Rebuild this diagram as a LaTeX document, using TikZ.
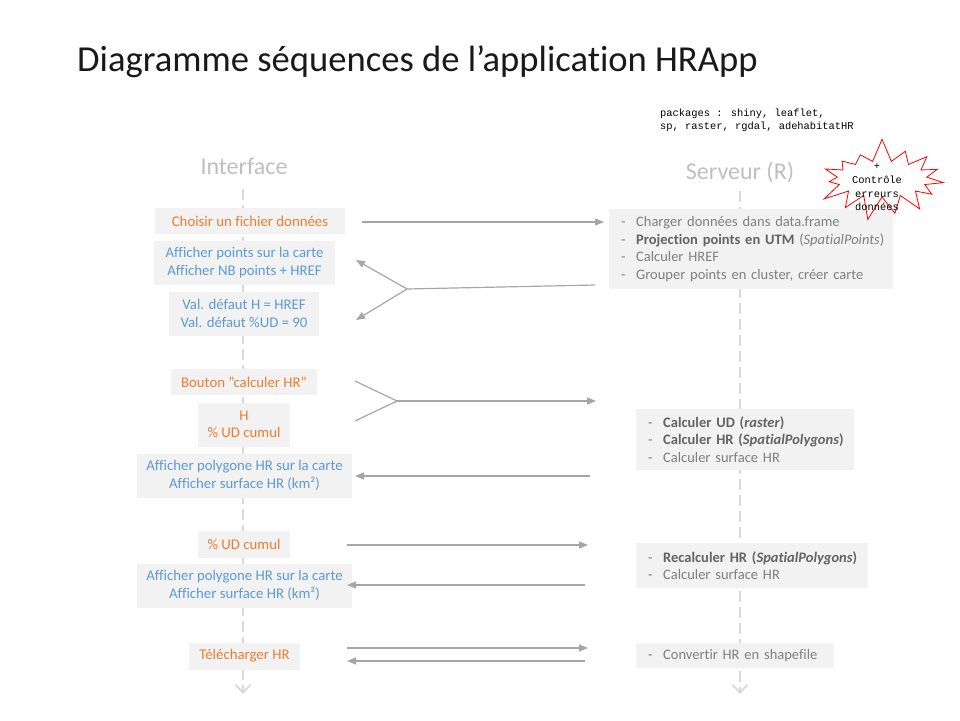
\documentclass[tikz,border=0pt]{standalone}
\usepackage{fontspec}
\setmainfont{Carlito}[Ligatures=NoCommon]
\newfontfamily\monofont{Liberation Mono}
\usetikzlibrary{arrows.meta,shapes.symbols}
\definecolor{orng}{HTML}{ED7D31}
\definecolor{blu}{HTML}{5B9BD5}
\definecolor{boxfill}{HTML}{F2F2F2}
\definecolor{arrgray}{HTML}{A6A6A6}
\definecolor{lifegray}{HTML}{D9D9D9}
\definecolor{headgray}{HTML}{BFBFBF}
\definecolor{txtgray}{HTML}{7F7F7F}
\definecolor{boldgray}{HTML}{636363}
\newcommand{\itm}[1]{\hspace*{12pt}\makebox[15pt][l]{-}#1}
\newcommand{\bitm}[1]{\hspace*{12pt}\makebox[15pt][l]{-}{\bfseries\color{boldgray}#1}}
\tikzset{
  body/.style={font=\fontsize{14.8}{17.5}\selectfont},
  lbox/.style={body, fill=boxfill, align=center, inner sep=0pt},
  obox/.style={lbox, text=orng},
  bbox/.style={lbox, text=blu},
  rbox/.style={font=\fontsize{14.5}{17.6}\selectfont, fill=boxfill, align=left, inner xsep=0pt, inner ysep=0pt, text=txtgray, anchor=west},
  lifeline/.style={draw=lifegray, line width=1.8pt, dash pattern=on 11pt off 5pt, -{Straight Barb[length=8pt,width=15pt,line width=1.8pt]}},
  msg/.style={draw=arrgray, line width=1.2pt, -{Triangle[length=9pt,width=7pt]}},
  plainline/.style={draw=arrgray, line width=1.2pt},
  head/.style={font=\fontsize{24}{28}\selectfont, text=headgray}
}
\begin{document}
\begin{tikzpicture}[x=1pt,y=-1pt]
\useasboundingbox (0,0) rectangle (960,720);

% title
\node[anchor=west, font=\fontsize{36.6}{42}\selectfont, text=black!90, inner sep=0pt] (title) at (77,62) {Diagramme séquences de l’application HRApp};

% packages
\node[anchor=north west, align=left, inner sep=0pt, font=\monofont\fontsize{10.4}{13}\selectfont] (pkgs) at (660,109) {packages : shiny, leaflet,\\sp, raster, rgdal, adehabitatHR};

% headings
\node[head] (hIf) at (244,166) {Interface};
\node[head] (hSv) at (740,172) {Serveur (R)};

% lifelines
\coordinate (ifTop) at (243,189);
\coordinate (ifBot) at (243,694);
\coordinate (svTop) at (740,191);
\coordinate (svBot) at (740,694);
\draw[lifeline] (ifTop) -- (ifBot);
\draw[lifeline] (svTop) -- (svBot);

% interface boxes
\node[obox, minimum width=190pt, minimum height=26pt] (i1) at (250,221) {Choisir un fichier données};
\node[bbox, minimum width=181pt, minimum height=44pt] (i2) at (244.5,262.5) {Afficher points sur la carte\\Afficher NB points + HREF};
\node[bbox, minimum width=150pt, minimum height=44pt] (i3) at (244,313.5) {Val. défaut H = HREF\\Val. défaut \%UD = 90};
\node[obox, minimum width=146pt, minimum height=26pt] (i4) at (244,382) {Bouton "calculer HR"};
\node[obox, minimum width=92pt, minimum height=44pt] (i5) at (244,424.5) {H\\\% UD cumul};
\node[bbox, minimum width=215pt, minimum height=44pt] (i6) at (244.5,475.5) {Afficher polygone HR sur la carte\\Afficher surface HR (km²)};
\node[obox, minimum width=92pt, minimum height=27pt] (i7) at (244,544) {\% UD cumul};
\node[bbox, minimum width=215pt, minimum height=44pt] (i8) at (244.5,585.5) {Afficher polygone HR sur la carte\\Afficher surface HR (km²)};
\node[obox, minimum width=111pt, minimum height=27pt] (i9) at (244.5,656) {Télécharger HR};

% server boxes
\node[rbox, text width=284pt, minimum height=80pt] (sA) at (609,249) {\itm{Charger données dans data.frame}\\\bitm{Projection points en UTM} (\textit{SpatialPoints})\\\itm{Calculer HREF}\\\itm{Grouper points en cluster, créer carte}};
\node[rbox, text width=218pt, minimum height=61pt] (sB) at (636,439.5) {\bitm{Calculer UD (\textit{raster})}\\\bitm{Calculer HR (\textit{SpatialPolygons})}\\\itm{Calculer surface HR}};
\node[rbox, text width=232pt, minimum height=45pt] (sC) at (636,565.5) {\bitm{Recalculer HR (\textit{SpatialPolygons})}\\\itm{Calculer surface HR}};
\node[rbox, text width=198pt, minimum height=25pt] (sD) at (636,655.5) {\itm{Convertir HR en shapefile}};

% messages
\coordinate (a1s) at (362,222); \coordinate (a1e) at (604,222);
\draw[msg] (a1s) -- (a1e);

\coordinate (f1s) at (595,285); \coordinate (f1j) at (407,289);
\coordinate (f1a) at (356,260); \coordinate (f1b) at (356,320);
\draw[plainline] (f1s) -- (f1j);
\draw[msg] (f1j) -- (f1a);
\draw[msg] (f1j) -- (f1b);

\coordinate (m1a) at (355,381); \coordinate (m1b) at (355,421);
\coordinate (m1j) at (397,401); \coordinate (m1e) at (596,401);
\draw[plainline] (m1a) -- (m1j) -- (m1b);
\draw[msg] (m1j) -- (m1e);

\coordinate (a3s) at (590,476); \coordinate (a3e) at (355,476);
\draw[msg] (a3s) -- (a3e);

\coordinate (a4s) at (347,545); \coordinate (a4e) at (588,545);
\draw[msg] (a4s) -- (a4e);

\coordinate (a5s) at (585,585); \coordinate (a5e) at (347,585);
\draw[msg] (a5s) -- (a5e);

\coordinate (a6s) at (347,648); \coordinate (a6e) at (588,648);
\draw[msg] (a6s) -- (a6e);
\coordinate (a7s) at (585,661); \coordinate (a7e) at (347,661);
\draw[msg] (a7s) -- (a7e);

% starburst
\node[starburst, draw=red, fill=white, line width=0.8pt, minimum width=138pt, minimum height=84pt, starburst points=15, starburst point height=24pt, random starburst=7] (burst) at (882,179) {};
\node[align=center, inner sep=0pt, font=\monofont\fontsize{10.4}{13.7}\selectfont] (burstTxt) at (877,187.5) {+\\Contrôle\\erreurs\\données};
\end{tikzpicture}
\end{document}
